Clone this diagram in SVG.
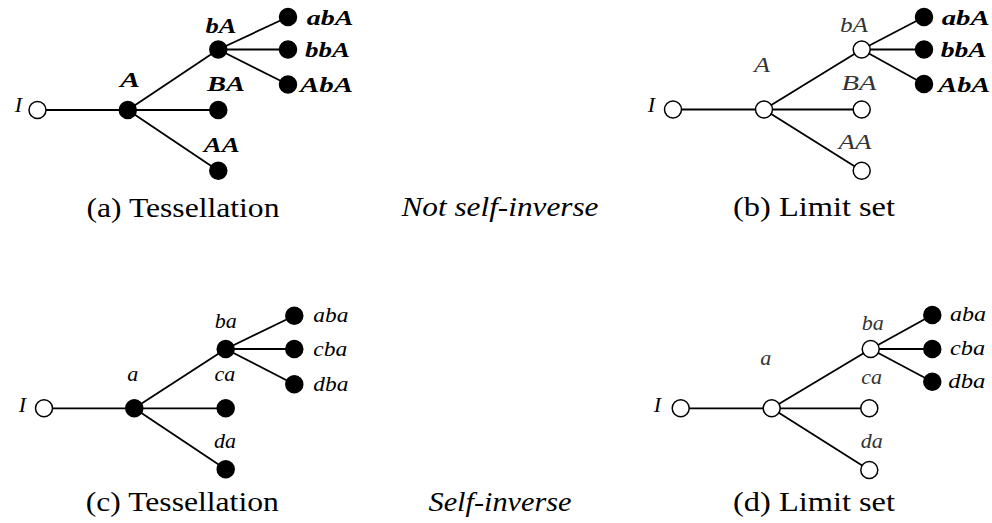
<svg xmlns="http://www.w3.org/2000/svg" width="992" height="523" viewBox="0 0 992 523">
<style>
  .e { stroke: #000; stroke-width: 1.8; fill: none; }
  .o { fill: #fff; stroke: #000; stroke-width: 1.5; }
  .f { fill: #000; stroke: #000; stroke-width: 1.5; }
  text { font-family: "Liberation Serif", "Times New Roman", Times, Tinos, "Nimbus Roman", "Nimbus Roman No9 L", "Noto Serif", "DejaVu Serif", FreeSerif, Georgia, serif; }
  .lb { font-style: italic; font-weight: bold; font-size: 22px; fill: #000; }
  .li { font-style: italic; font-size: 22px; fill: #000; }
  .lg { font-style: italic; font-size: 22px; fill: #333; }
  .cap { font-size: 28px; fill: #000; text-anchor: middle; }
  .capi { font-style: italic; font-size: 28px; fill: #000; text-anchor: middle; }
  .m { text-anchor: middle; }
</style>
<rect width="992" height="523" fill="#fff"/>

<g id="connectors">
  <line class="e" x1="37.5" y1="110" x2="127.8" y2="110"/>
  <line class="e" x1="127.8" y1="110" x2="218.3" y2="49.5"/>
  <line class="e" x1="127.8" y1="110" x2="218.3" y2="110"/>
  <line class="e" x1="127.8" y1="110" x2="218.3" y2="170.7"/>
  <line class="e" x1="218.3" y1="49.5" x2="288" y2="17"/>
  <line class="e" x1="218.3" y1="49.5" x2="288" y2="49.5"/>
  <line class="e" x1="218.3" y1="49.5" x2="288" y2="84.5"/>
  <line class="e" x1="673" y1="109.5" x2="764" y2="109.5"/>
  <line class="e" x1="764" y1="109.5" x2="861.7" y2="49.5"/>
  <line class="e" x1="764" y1="109.5" x2="861.7" y2="109.5"/>
  <line class="e" x1="764" y1="109.5" x2="861.7" y2="170.7"/>
  <line class="e" x1="861.7" y1="49.5" x2="924" y2="17"/>
  <line class="e" x1="861.7" y1="49.5" x2="924" y2="49.5"/>
  <line class="e" x1="861.7" y1="49.5" x2="924" y2="84"/>
  <line class="e" x1="44" y1="408.3" x2="134.3" y2="408.3"/>
  <line class="e" x1="134.3" y1="408.3" x2="225.7" y2="349"/>
  <line class="e" x1="134.3" y1="408.3" x2="225.7" y2="408.3"/>
  <line class="e" x1="134.3" y1="408.3" x2="225.7" y2="469.3"/>
  <line class="e" x1="225.7" y1="349" x2="294.3" y2="315.7"/>
  <line class="e" x1="225.7" y1="349" x2="294.3" y2="349"/>
  <line class="e" x1="225.7" y1="349" x2="294.3" y2="384.3"/>
  <line class="e" x1="680.7" y1="408.3" x2="771.7" y2="408.3"/>
  <line class="e" x1="771.7" y1="408.3" x2="870.7" y2="349"/>
  <line class="e" x1="771.7" y1="408.3" x2="869.3" y2="408.3"/>
  <line class="e" x1="771.7" y1="408.3" x2="869.3" y2="470"/>
  <line class="e" x1="870.7" y1="349" x2="932.3" y2="315"/>
  <line class="e" x1="870.7" y1="349" x2="932.3" y2="349"/>
  <line class="e" x1="870.7" y1="349" x2="932.3" y2="381.7"/>
</g>

<!-- Panel (a) -->
<g id="a-I"><circle class="o" cx="37.5" cy="110" r="8.5"/><text class="li m" x="18.5" y="112">I</text></g>
<g id="a-A"><circle class="f" cx="127.8" cy="110" r="8.5"/><text class="lb m" x="130" y="87" textLength="20" lengthAdjust="spacingAndGlyphs">A</text></g>
<g id="a-bA"><circle class="f" cx="218.3" cy="49.5" r="8.5"/><text class="lb m" x="221" y="33" textLength="31" lengthAdjust="spacingAndGlyphs">bA</text></g>
<g id="a-BA"><circle class="f" cx="218.3" cy="110" r="8.5"/><text class="lb m" x="226" y="91" textLength="38" lengthAdjust="spacingAndGlyphs">BA</text></g>
<g id="a-AA"><circle class="f" cx="218.3" cy="170.7" r="8.5"/><text class="lb m" x="221.7" y="151.7" textLength="36" lengthAdjust="spacingAndGlyphs">AA</text></g>
<g id="a-abA"><circle class="f" cx="288" cy="17" r="8.5"/><text class="lb" x="306.7" y="25" textLength="46.7" lengthAdjust="spacingAndGlyphs">abA</text></g>
<g id="a-bbA"><circle class="f" cx="288" cy="49.5" r="8.5"/><text class="lb" x="305" y="57" textLength="45" lengthAdjust="spacingAndGlyphs">bbA</text></g>
<g id="a-AbA"><circle class="f" cx="288" cy="84.5" r="8.5"/><text class="lb" x="300" y="92" textLength="53" lengthAdjust="spacingAndGlyphs">AbA</text></g>
<text class="cap" x="183" y="217" textLength="193" lengthAdjust="spacingAndGlyphs">(a) Tessellation</text>

<!-- Panel (b) -->
<g id="b-I"><circle class="o" cx="673" cy="109.5" r="8.5"/><text class="li m" x="651.5" y="111.7">I</text></g>
<g id="b-A"><circle class="o" cx="764" cy="109.5" r="8.5"/><text class="lg m" x="762" y="71.7" textLength="16" lengthAdjust="spacingAndGlyphs">A</text></g>
<g id="b-bA"><circle class="o" cx="861.7" cy="49.5" r="8.5"/><text class="lg m" x="854" y="31.7" textLength="28" lengthAdjust="spacingAndGlyphs">bA</text></g>
<g id="b-BA"><circle class="o" cx="861.7" cy="109.5" r="8.5"/><text class="lg m" x="859" y="90" textLength="35" lengthAdjust="spacingAndGlyphs">BA</text></g>
<g id="b-AA"><circle class="o" cx="861.7" cy="170.7" r="8.5"/><text class="lg m" x="855" y="149" textLength="33" lengthAdjust="spacingAndGlyphs">AA</text></g>
<g id="b-abA"><circle class="f" cx="924" cy="17" r="8.5"/><text class="lb" x="941.7" y="25" textLength="48" lengthAdjust="spacingAndGlyphs">abA</text></g>
<g id="b-bbA"><circle class="f" cx="924" cy="49.5" r="8.5"/><text class="lb" x="940.7" y="57" textLength="46" lengthAdjust="spacingAndGlyphs">bbA</text></g>
<g id="b-AbA"><circle class="f" cx="924" cy="84" r="8.5"/><text class="lb" x="938.3" y="92" textLength="52" lengthAdjust="spacingAndGlyphs">AbA</text></g>
<text class="cap" x="814" y="216" textLength="162" lengthAdjust="spacingAndGlyphs">(b) Limit set</text>

<text class="capi" x="500" y="216" textLength="197" lengthAdjust="spacingAndGlyphs">Not self-inverse</text>

<!-- Panel (c) -->
<g id="c-I"><circle class="o" cx="44" cy="408.3" r="8.5"/><text class="li m" x="22.5" y="411.7">I</text></g>
<g id="c-a"><circle class="f" cx="134.3" cy="408.3" r="8.5"/><text class="li m" x="132.7" y="381">a</text></g>
<g id="c-ba"><circle class="f" cx="225.7" cy="349" r="8.5"/><text class="li m" x="225.7" y="328.3">ba</text></g>
<g id="c-ca"><circle class="f" cx="225.7" cy="408.3" r="8.5"/><text class="li m" x="225" y="381">ca</text></g>
<g id="c-da"><circle class="f" cx="225.7" cy="469.3" r="8.5"/><text class="li m" x="225" y="447.7">da</text></g>
<g id="c-aba"><circle class="f" cx="294.3" cy="315.7" r="8.5"/><text class="li" x="313.3" y="322.3" textLength="35" lengthAdjust="spacingAndGlyphs">aba</text></g>
<g id="c-cba"><circle class="f" cx="294.3" cy="349" r="8.5"/><text class="li" x="313.3" y="355.7" textLength="34" lengthAdjust="spacingAndGlyphs">cba</text></g>
<g id="c-dba"><circle class="f" cx="294.3" cy="384.3" r="8.5"/><text class="li" x="313.3" y="390.7" textLength="35" lengthAdjust="spacingAndGlyphs">dba</text></g>
<text class="cap" x="182.3" y="511" textLength="193" lengthAdjust="spacingAndGlyphs">(c) Tessellation</text>

<text class="capi" x="500" y="511" textLength="143" lengthAdjust="spacingAndGlyphs">Self-inverse</text>

<!-- Panel (d) -->
<g id="d-I"><circle class="o" cx="680.7" cy="408.3" r="8.5"/><text class="li m" x="657.5" y="411.7">I</text></g>
<g id="d-a"><circle class="o" cx="771.7" cy="408.3" r="8.5"/><text class="lg m" x="765.7" y="365">a</text></g>
<g id="d-ba"><circle class="o" cx="870.7" cy="349" r="8.5"/><text class="lg m" x="872.7" y="330">ba</text></g>
<g id="d-ca"><circle class="o" cx="869.3" cy="408.3" r="8.5"/><text class="lg m" x="871.7" y="384.3">ca</text></g>
<g id="d-da"><circle class="o" cx="869.3" cy="470" r="8.5"/><text class="lg m" x="871.7" y="448.3">da</text></g>
<g id="d-aba"><circle class="f" cx="932.3" cy="315" r="8.5"/><text class="li" x="950" y="320.7" textLength="36" lengthAdjust="spacingAndGlyphs">aba</text></g>
<g id="d-cba"><circle class="f" cx="932.3" cy="349" r="8.5"/><text class="li" x="950" y="355" textLength="35" lengthAdjust="spacingAndGlyphs">cba</text></g>
<g id="d-dba"><circle class="f" cx="932.3" cy="381.7" r="8.5"/><text class="li" x="948.3" y="388.3" textLength="37" lengthAdjust="spacingAndGlyphs">dba</text></g>
<text class="cap" x="814" y="511" textLength="162" lengthAdjust="spacingAndGlyphs">(d) Limit set</text>
</svg>
